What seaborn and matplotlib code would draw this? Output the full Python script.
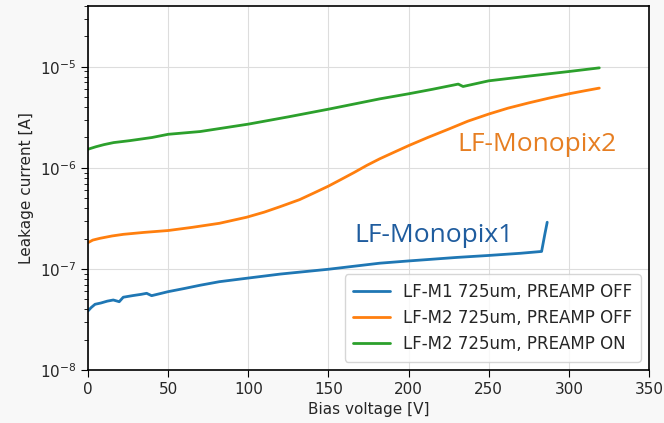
import numpy as np
import pandas as pd
import seaborn as sns
import matplotlib.pyplot as plt

# Bias voltage [V] and leakage current [A]
m1_off_v = [0, 2, 4.4, 8, 12, 15.8, 19.5, 22, 28, 33, 36.6, 39.7, 45, 50, 60, 70, 82, 99, 120,
            150, 182, 200, 230, 250, 270, 283, 285, 286.5]
m1_off_i = [3.84e-8, 4.15e-8, 4.47e-8, 4.6e-8, 4.8e-8, 4.93e-8, 4.74e-8, 5.25e-8, 5.45e-8, 5.6e-8,
            5.74e-8, 5.44e-8, 5.7e-8, 5.96e-8, 6.4e-8, 6.9e-8, 7.48e-8, 8.09e-8, 8.9e-8,
            9.93e-8, 1.14e-7, 1.2e-7, 1.3e-7, 1.36e-7, 1.43e-7, 1.49e-7, 2.2e-7, 2.9e-7]

m2_off_v = [0, 3, 7.5, 15, 22, 35, 50, 65, 82, 99, 110, 120, 132, 141, 150, 158, 166, 174,
            182, 191, 200, 212, 225, 237, 250, 262, 275, 288, 300, 310, 319]
m2_off_i = [1.82e-7, 1.93e-7, 2.01e-7, 2.12e-7, 2.2e-7, 2.3e-7, 2.4e-7, 2.58e-7, 2.83e-7, 3.25e-7,
            3.65e-7, 4.14e-7, 4.85e-7, 5.65e-7, 6.6e-7, 7.7e-7, 9.0e-7, 1.06e-6,
            1.23e-6, 1.43e-6, 1.66e-6, 2.0e-6, 2.42e-6, 2.9e-6, 3.41e-6, 3.9e-6, 4.4e-6,
            4.92e-6, 5.41e-6, 5.8e-6, 6.16e-6]

m2_on_v = [0, 5, 10, 16, 26, 40, 50, 70, 100, 125, 150, 182, 200, 215, 231, 234, 250, 275,
           300, 319]
m2_on_i = [1.53e-6, 1.62e-6, 1.7e-6, 1.78e-6, 1.86e-6, 2.0e-6, 2.15e-6, 2.29e-6, 2.71e-6,
           3.2e-6, 3.81e-6, 4.82e-6, 5.41e-6, 6.0e-6, 6.75e-6, 6.39e-6, 7.27e-6, 8.1e-6,
           8.99e-6, 9.77e-6]

labels = ['LF-M1 725um, PREAMP OFF', 'LF-M2 725um, PREAMP OFF', 'LF-M2 725um, PREAMP ON']

df = pd.concat([
    pd.DataFrame({'Bias voltage [V]': m1_off_v, 'Leakage current [A]': m1_off_i, 'sample': labels[0]}),
    pd.DataFrame({'Bias voltage [V]': m2_off_v, 'Leakage current [A]': m2_off_i, 'sample': labels[1]}),
    pd.DataFrame({'Bias voltage [V]': m2_on_v, 'Leakage current [A]': m2_on_i, 'sample': labels[2]}),
])

sns.set_style('whitegrid', {'axes.edgecolor': 'black', 'xtick.bottom': True, 'ytick.left': True,
                            'grid.color': '#dddddd'})
plt.rcParams['font.family'] = ['DejaVu Sans']

fig = plt.figure(figsize=(6.64, 4.23), dpi=100, facecolor='#f8f8f8')
ax = fig.add_axes([0.1325, 0.1253, 0.8449, 0.8605])

sns.lineplot(data=df, x='Bias voltage [V]', y='Leakage current [A]', hue='sample',
             palette=['#1f77b4', '#ff7f0e', '#2ca02c'], linewidth=2, sort=False, ax=ax)

ax.set_yscale('log')
ax.set_xlim(0, 350)
ax.set_ylim(1e-8, 4e-5)
ax.tick_params(labelsize=11, direction='out', length=5, color='black')
ax.tick_params(which='minor', left=True, length=3, color='black')
ax.set_xlabel('Bias voltage [V]', fontsize=11)
ax.set_ylabel('Leakage current [A]', fontsize=11)
for s in ax.spines.values():
    s.set_linewidth(1.2)

# chip name annotations
ax.text(216, 1.85e-7, 'LF-Monopix1', color='#1f5c9e', fontsize=19, family='Open Sans',
        ha='center', va='baseline')
ax.text(280, 1.47e-6, 'LF-Monopix2', color='#e67e22', fontsize=19, family='Open Sans',
        ha='center', va='baseline')

ax.legend(loc='lower right', fontsize=12, frameon=True, handlelength=2.2, borderpad=0.5)

fig.savefig('out.png', dpi=100, facecolor=fig.get_facecolor())
